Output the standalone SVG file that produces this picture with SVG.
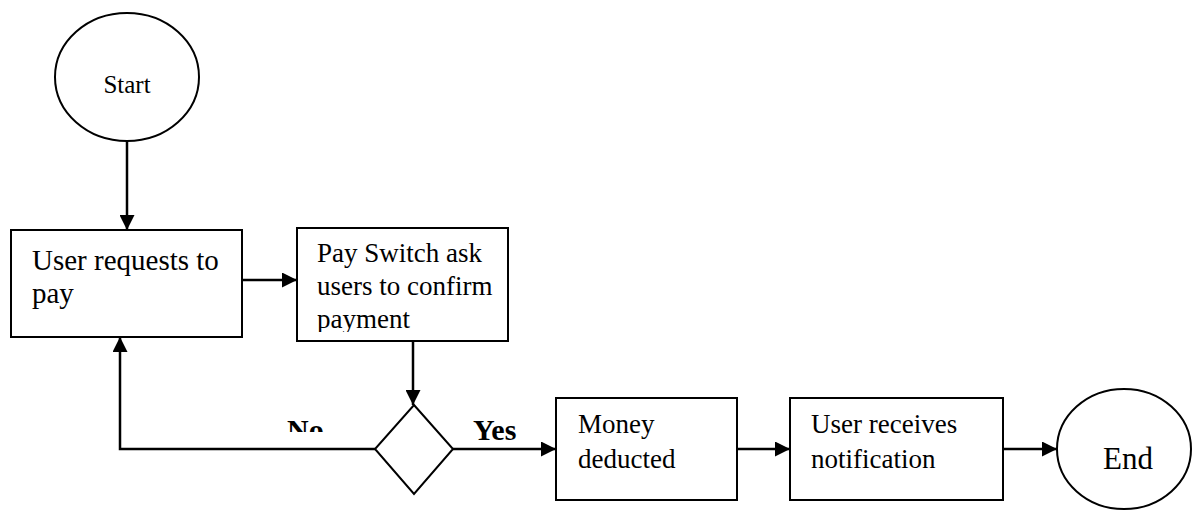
<svg xmlns="http://www.w3.org/2000/svg" width="1192" height="510" viewBox="0 0 1192 510">
<defs>
<marker id="arr" viewBox="0 0 10 10" refX="10" refY="5" markerWidth="15" markerHeight="15" markerUnits="userSpaceOnUse" orient="auto">
<path d="M0,0 L10,5 L0,10 Z" fill="#000"/>
</marker>
<clipPath id="c2"><rect x="297" y="228" width="211" height="104"/></clipPath>
<clipPath id="cno"><rect x="270" y="400" width="80" height="32"/></clipPath>
</defs>
<style>
.shape{fill:#fff;stroke:#000;stroke-width:2}
.t{font-family:"Liberation Serif","Times New Roman",serif;font-size:27px;fill:#000}
.b{font-family:"Liberation Serif","Times New Roman",serif;font-size:30px;font-weight:bold;fill:#000}
.c{fill:none;stroke:#000;stroke-width:2.5}
</style>
<rect width="1192" height="510" fill="#fff"/>
<g id="start"><ellipse class="shape" cx="127" cy="77" rx="72" ry="64"/><text class="t" x="127" y="93" text-anchor="middle" style="font-size:25px">Start</text></g>
<g id="request"><rect class="shape" x="11" y="230" width="231" height="107"/><text class="t" x="32" y="270" style="font-size:29px">User requests to</text><text class="t" x="32" y="303" style="font-size:29px">pay</text></g>
<g id="confirm"><rect class="shape" x="297" y="228" width="211" height="113"/><g clip-path="url(#c2)"><text class="t" x="317" y="262">Pay Switch ask</text><text class="t" x="317" y="295">users to confirm</text><text class="t" x="317" y="328">payment</text></g></g>
<g id="decision"><polygon class="shape" points="414,405 453,449 414,494 375,449"/></g>
<g id="deducted"><rect class="shape" x="556" y="398" width="181" height="102"/><text class="t" x="578" y="433">Money</text><text class="t" x="578" y="468">deducted</text></g>
<g id="notify"><rect class="shape" x="790" y="398" width="213" height="102"/><text class="t" x="811" y="433">User receives</text><text class="t" x="811" y="468">notification</text></g>
<g id="end"><ellipse class="shape" cx="1124" cy="449" rx="67" ry="60"/><text class="t" x="1128" y="469" text-anchor="middle" style="font-size:31px">End</text></g>
<g id="connectors">
<line class="c" x1="127" y1="141" x2="127" y2="230" marker-end="url(#arr)"/>
<line class="c" x1="242" y1="280" x2="297" y2="280" marker-end="url(#arr)"/>
<line class="c" x1="413" y1="341" x2="413" y2="405" marker-end="url(#arr)"/>
<polyline class="c" points="375,449 120,449 120,337" marker-end="url(#arr)"/>
<line class="c" x1="453" y1="449" x2="556" y2="449" marker-end="url(#arr)"/>
<line class="c" x1="737" y1="449" x2="790" y2="449" marker-end="url(#arr)"/>
<line class="c" x1="1003" y1="449" x2="1057" y2="449" marker-end="url(#arr)"/>
<g clip-path="url(#cno)"><text class="b" x="287" y="440">No</text></g>
<text class="b" x="473" y="440">Yes</text>
</g>
</svg>
